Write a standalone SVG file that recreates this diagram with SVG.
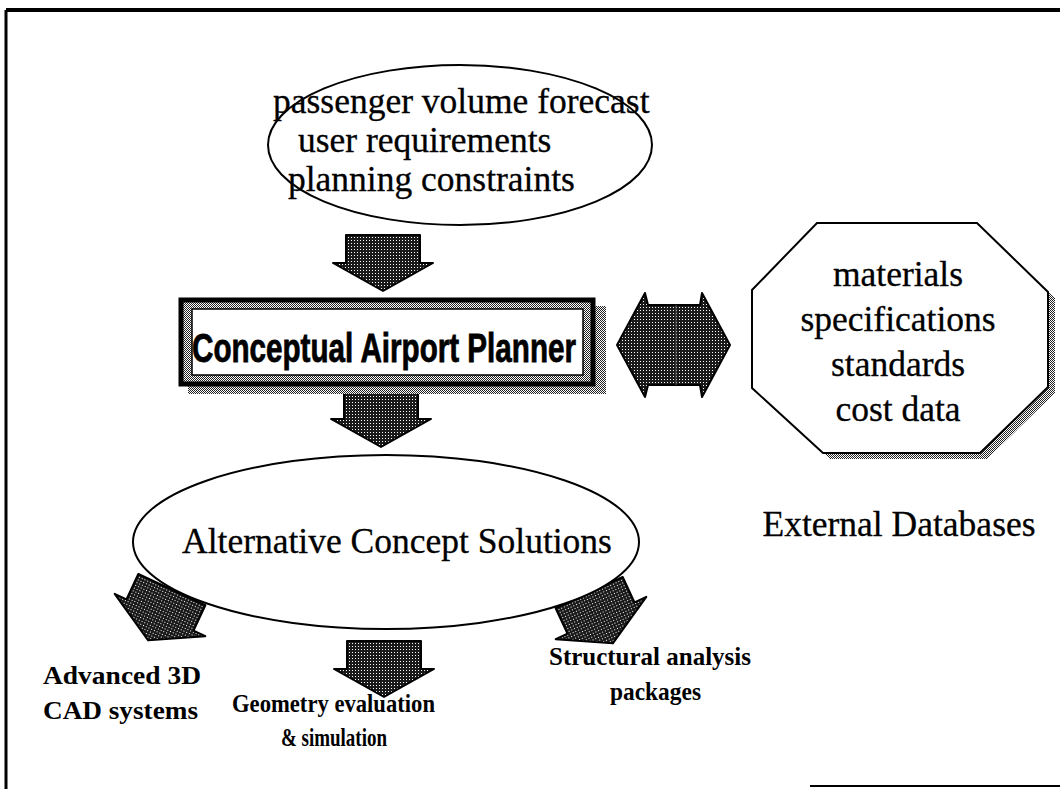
<svg xmlns="http://www.w3.org/2000/svg" width="1060" height="789" viewBox="0 0 1060 789">
<defs>
<pattern id="dark" width="3" height="3" patternUnits="userSpaceOnUse"><rect width="3" height="3" fill="#1a1a1a"/><rect x="1" y="1" width="1" height="1" fill="#fff"/></pattern>
<pattern id="light" width="2" height="2" patternUnits="userSpaceOnUse"><rect width="2" height="2" fill="#fff"/><rect width="1" height="1" fill="#222"/><rect x="1" y="1" width="1" height="1" fill="#222"/></pattern>
<path id="arr" d="M-37,-28 L37,-28 L37,0 L50,0 L0,28 L-50,0 L-37,0 Z"/>
<style>
.serif{font-family:"Liberation Serif","Times New Roman",serif;fill:#000}
.big{font-size:35.5px;stroke:#000;stroke-width:0.3}
.lab{font-size:26px;font-weight:bold}
.arrow{fill:url(#dark);stroke:#000;stroke-width:2;stroke-linejoin:round}
.outline{fill:#fff;stroke:#000;stroke-width:2}
</style>
</defs>
<rect width="1060" height="789" fill="#fff"/>
<g id="frame" fill="none" stroke="#000">
<path d="M1060,10 L6,10" stroke-width="4"/>
<path d="M6,10 L6,789" stroke-width="3"/>
<path d="M810,786 L1060,786" stroke-width="2"/>
</g>
<g id="connectors">
<use href="#arr" class="arrow" transform="translate(383,263)"/>
<use href="#arr" class="arrow" transform="translate(381,419)"/>
<use href="#arr" class="arrow" transform="translate(160,615) rotate(25)"/>
<use href="#arr" class="arrow" transform="translate(384,669)"/>
<use href="#arr" class="arrow" transform="translate(601,618) rotate(-25)"/>
<g id="double-arrow">
<path class="arrow" d="M617,345 L645,293 L648,305 L700,305 L702,293 L730,345 L702,397 L700,385 L648,385 L645,397 Z"/>
<path d="M676,305 L676,385" stroke="#555" stroke-width="1"/>
</g>
</g>
<g id="inputs">
<ellipse class="outline" cx="460" cy="145" rx="192" ry="80"/>
<text class="serif big" x="273" y="113">passenger volume forecast</text>
<text class="serif big" x="298" y="152">user requirements</text>
<text class="serif big" x="288" y="191">planning constraints</text>
</g>
<g id="planner">
<rect x="188" y="306" width="418" height="88" fill="url(#light)"/>
<rect x="181" y="300" width="412" height="84" fill="url(#light)" stroke="#000" stroke-width="5"/>
<rect x="192" y="309" width="391" height="66" fill="#fff" stroke="#000" stroke-width="1.5"/>
<text x="384" y="362" text-anchor="middle" textLength="384" lengthAdjust="spacingAndGlyphs" style="font-family:'Liberation Sans',Arial,sans-serif;font-weight:bold;font-size:40px;stroke:#000;stroke-width:0.8">Conceptual Airport Planner</text>
</g>
<g id="databases">
<polygon points="824,229 984,229 1055,298 1055,393 987,459 830,459 759,394 759,296" fill="url(#light)"/>
<polygon class="outline" points="817,223 977,223 1048,292 1048,387 980,453 823,453 752,388 752,290"/>
<text class="serif big" font-size="36" text-anchor="middle" x="898" y="286">materials</text>
<text class="serif big" text-anchor="middle" x="898" y="331">specifications</text>
<text class="serif big" text-anchor="middle" x="898" y="376">standards</text>
<text class="serif big" text-anchor="middle" x="898" y="421">cost data</text>
<text class="serif big" text-anchor="middle" x="899" y="536">External Databases</text>
</g>
<g id="solutions">
<ellipse class="outline" cx="386" cy="542" rx="253" ry="87"/>
<text class="serif big" text-anchor="middle" x="397" y="553">Alternative Concept Solutions</text>
</g>
<g id="cad">
<text class="serif lab" x="43" y="684" textLength="158" lengthAdjust="spacingAndGlyphs">Advanced 3D</text>
<text class="serif lab" x="43" y="719" textLength="155" lengthAdjust="spacingAndGlyphs">CAD systems</text>
</g>
<g id="geometry">
<text class="serif lab" x="232" y="712" textLength="203" lengthAdjust="spacingAndGlyphs">Geometry evaluation</text>
<text class="serif lab" x="281" y="746" textLength="106" lengthAdjust="spacingAndGlyphs">&amp; simulation</text>
</g>
<g id="structural">
<text class="serif lab" x="549" y="665" textLength="202" lengthAdjust="spacingAndGlyphs">Structural analysis</text>
<text class="serif lab" x="610" y="700" textLength="91" lengthAdjust="spacingAndGlyphs">packages</text>
</g>
</svg>
